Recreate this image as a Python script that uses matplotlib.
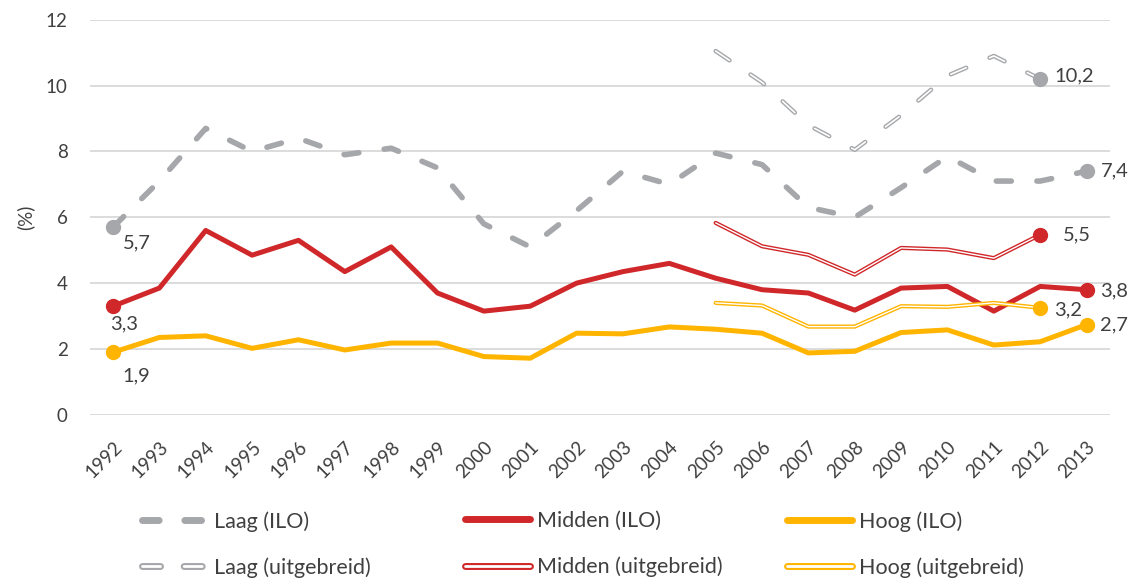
import matplotlib.pyplot as plt
from matplotlib.legend_handler import HandlerTuple
from matplotlib.lines import Line2D

# Jaren en werkloosheidspercentages per opleidingsniveau
jaren = list(range(1992, 2014))
laag_ilo = [5.7, 7.1, 8.7, 8.0, 8.4, 7.9, 8.1, 7.5, 5.8, 5.1, 6.2, 7.4, 7.0, 7.95,
            7.6, 6.3, 6.0, 6.9, 7.85, 7.1, 7.1, 7.4]
midden_ilo = [3.3, 3.85, 5.6, 4.85, 5.3, 4.35, 5.1, 3.7, 3.15, 3.3, 4.0, 4.35, 4.6, 4.15,
              3.8, 3.7, 3.18, 3.85, 3.9, 3.15, 3.9, 3.8]
hoog_ilo = [1.9, 2.35, 2.4, 2.02, 2.28, 1.97, 2.18, 2.18, 1.77, 1.72, 2.48, 2.46, 2.67, 2.6,
            2.48, 1.88, 1.93, 2.5, 2.58, 2.12, 2.22, 2.74]

jaren_uitg = list(range(2005, 2013))
laag_uitg = [11.05, 10.1, 8.8, 8.05, 9.1, 10.3, 10.9, 10.2]
midden_uitg = [5.83, 5.12, 4.86, 4.26, 5.07, 5.02, 4.76, 5.47]
hoog_uitg = [3.4, 3.32, 2.68, 2.68, 3.3, 3.28, 3.4, 3.25]

grijs = '#a5a7aa'
rood = '#d0282a'
geel = '#ffb400'
tekst = '#404040'

plt.rcParams['font.family'] = ['Lato', 'DejaVu Sans']

fig = plt.figure(figsize=(11.37, 5.81), dpi=100)
ax = fig.add_axes([0.079, 0.286, 0.897, 0.680])

# ILO-reeksen
ax.plot(jaren, laag_ilo, color=grijs, lw=4, dashes=(2.7, 4.6),
        dash_capstyle='round', zorder=3)
ax.plot(jaren, midden_ilo, color=rood, lw=3.6, solid_joinstyle='round', zorder=3)
ax.plot(jaren, hoog_ilo, color=geel, lw=3.6, solid_joinstyle='round', zorder=3)

# uitgebreide reeksen (dubbele lijn)
ax.plot(jaren_uitg, laag_uitg, color=grijs, lw=3.2, dashes=(3.75, 5.7),
        dash_capstyle='round', zorder=3)
ax.plot(jaren_uitg, laag_uitg, color='white', lw=1.2, dashes=(10.0, 15.2),
        dash_capstyle='round', zorder=4)
for waarden, kleur in [(midden_uitg, rood), (hoog_uitg, geel)]:
    ax.plot(jaren_uitg, waarden, color=kleur, lw=3.0, solid_capstyle='round', zorder=3)
    ax.plot(jaren_uitg, waarden, color='white', lw=1.0, solid_capstyle='round', zorder=4)

# eindpunten met labels
punten = [
    (jaren[0], laag_ilo[0], grijs, '5,7', (7, -11)),
    (jaren[0], midden_ilo[0], rood, '3,3', (-2, -13)),
    (jaren[0], hoog_ilo[0], geel, '1,9', (7, -17)),
    (jaren[-1], laag_ilo[-1], grijs, '7,4', (10, 0)),
    (jaren[-1], midden_ilo[-1], rood, '3,8', (10, -1)),
    (jaren[-1], hoog_ilo[-1], geel, '2,7', (10, 0)),
    (jaren_uitg[-1], laag_uitg[-1], grijs, '10,2', (10, 2)),
    (jaren_uitg[-1], midden_uitg[-1], rood, '5,5', (16, 0)),
    (jaren_uitg[-1], hoog_uitg[-1], geel, '3,2', (10, -1.5)),
]
for x, y, kleur, lbl, off in punten:
    ax.plot(x, y, 'o', color=kleur, ms=10, zorder=5)
    ax.annotate(lbl, (x, y), xytext=off, textcoords='offset points',
                ha='left', va='center', fontsize=14.5, color=tekst)

ax.set_xlim(1991.5, 2013.5)
ax.set_ylim(0, 12)
ax.set_yticks(range(0, 13, 2))
ax.set_xticks(jaren)
ax.set_xticklabels([str(j) for j in jaren], rotation=45, ha='right',
                   rotation_mode='anchor')
ax.tick_params(length=0, labelsize=13.5, colors=tekst)
ax.tick_params(axis='x', pad=17)
ax.tick_params(axis='y', pad=16)
ax.grid(axis='y', color='#d9d9d9', lw=1.3)
ax.set_axisbelow(True)
for s in ax.spines.values():
    s.set_visible(False)
ax.set_ylabel('(%)', fontsize=13.5, color=tekst, labelpad=8)

# legenda: drie kolommen, elk met ILO en uitgebreid
def dubbel(kleur, gestippeld=False):
    if gestippeld:
        buiten = Line2D([], [], color=kleur, lw=5, dashes=(2.6, 3.4), dash_capstyle='round')
        binnen = Line2D([], [], color='white', lw=2, dashes=(6.5, 8.5), dash_capstyle='round')
    else:
        buiten = Line2D([], [], color=kleur, lw=5, solid_capstyle='round')
        binnen = Line2D([], [], color='white', lw=2, solid_capstyle='round')
    return (buiten, binnen)

kolommen = [
    (Line2D([], [], color=grijs, lw=5, dashes=(2.4, 3.7), dash_capstyle='round'),
     dubbel(grijs, True), 'Laag', 142),
    (Line2D([], [], color=rood, lw=5, solid_capstyle='round'), dubbel(rood), 'Midden', 465),
    (Line2D([], [], color=geel, lw=5, solid_capstyle='round'), dubbel(geel), 'Hoog', 787),
]
for h_ilo, h_uitg, naam, xpix in kolommen:
    fig.legend([h_ilo, h_uitg], [f'{naam} (ILO)', f'{naam} (uitgebreid)'],
               loc='upper left', bbox_to_anchor=(xpix / 1137, 1 - 511 / 581),
               frameon=False, fontsize=15.5, labelcolor=tekst, handlelength=3.0,
               handletextpad=0.35, labelspacing=1.2, borderpad=0, borderaxespad=0,
               handler_map={tuple: HandlerTuple(ndivide=1, pad=0)})

fig.savefig('out.png', dpi=100)
